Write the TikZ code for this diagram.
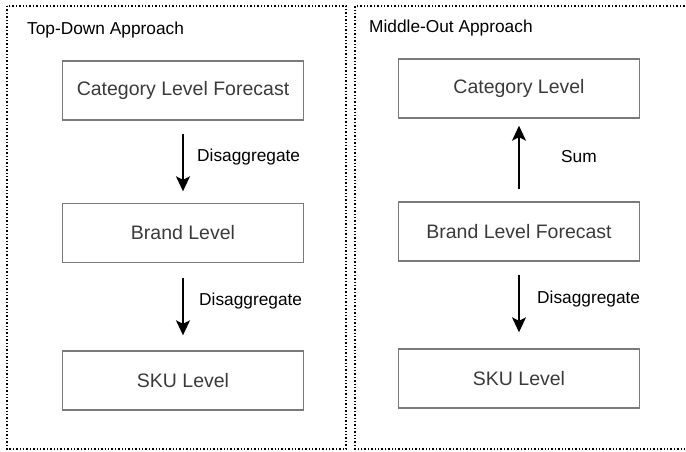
\documentclass[tikz,border=0pt]{standalone}
\usepackage{fontspec}
\setmainfont{Liberation Sans}
\usetikzlibrary{arrows.meta}
\definecolor{boxline}{HTML}{7A7A7A}
\definecolor{boxtext}{HTML}{3A3A3A}
\tikzset{
  frame/.style={draw=black, line width=1.4pt, dotted},
  level/.style={draw=boxline, line width=1.4pt, minimum width=241pt, minimum height=59pt,
    inner sep=0pt, text=boxtext, font=\fontsize{19.5}{22}\selectfont},
  flow/.style={line width=1.5pt, -{Stealth[length=15pt, width=14pt, inset=3.5pt]}},
  steplabel/.style={anchor=west, inner sep=0pt, font=\fontsize{17.3}{20}\selectfont},
  title/.style={anchor=west, inner sep=0pt, font=\fontsize{17.3}{20}\selectfont}
}
\begin{document}
\begin{tikzpicture}[x=1pt, y=-1pt]
  \useasboundingbox (0,0) rectangle (686,451);
  % approach frames
  \draw[frame] (7,6) rectangle (346,449);
  \draw[frame] (688,6) -- (355,6) -- (355,449) -- (688,449);
  \node[title] (ttd) at (27,30) {Top-Down Approach};
  \node[title] (tmo) at (369,28) {Middle-Out Approach};

  % top-down levels
  \node[level] (lcat) at (183,90.5) {Category Level Forecast};
  \node[level] (lbrand) at (183,233) {Brand Level};
  \node[level] (lsku) at (183,380.5) {SKU Level};
  \draw[flow, shorten <=13pt, shorten >=11.5pt] (lcat) -- (lbrand);
  \draw[flow, shorten <=14.5pt, shorten >=15pt] (lbrand) -- (lsku);
  \node[steplabel] (ld1) at (197,157) {Disaggregate};
  \node[steplabel] (ld2) at (199,301) {Disaggregate};

  % middle-out levels
  \node[level] (rcat) at (519,88.5) {Category Level};
  \node[level] (rbrand) at (519,231.5) {Brand Level Forecast};
  \node[level] (rsku) at (519,378.5) {SKU Level};
  \draw[flow, shorten <=12pt, shorten >=7pt] (rbrand) -- (rcat);
  \draw[flow, shorten <=13pt, shorten >=16pt] (rbrand) -- (rsku);
  \node[steplabel] (rsum) at (561,157) {Sum};
  \node[steplabel] (rd) at (537,299) {Disaggregate};
\end{tikzpicture}
\end{document}
